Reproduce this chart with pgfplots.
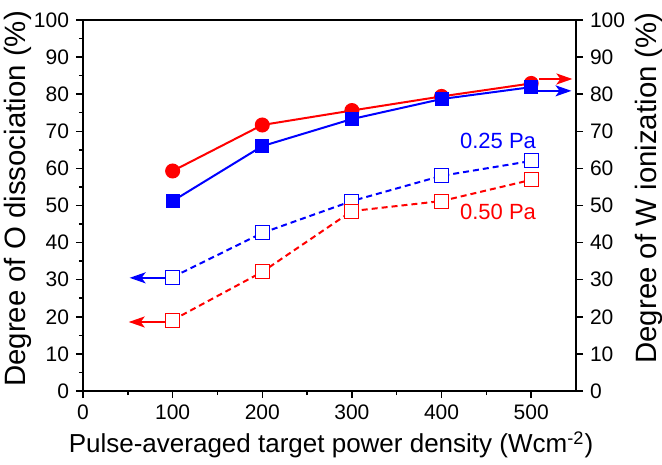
\documentclass[border=0pt]{standalone}
\usepackage{fontspec}
\setmainfont{Liberation Sans}
\usepackage{pgfplots}
\pgfplotsset{compat=1.18}
\usetikzlibrary{arrows.meta}
\definecolor{myred}{RGB}{255,0,0}
\definecolor{myblue}{RGB}{0,0,255}
\begin{document}
\begin{tikzpicture}
\useasboundingbox (-41.5bp,-37bp) rectangle (289.5bp,195.5bp);
\pgfplotsset{
  myaxis/.style={
    at={(0,0)}, anchor=south west,
    scale only axis, width=246.5bp, height=185.5bp,
    xmin=0, xmax=550, ymin=0, ymax=100,
    tick align=outside,
    major tick length=3.5bp, minor tick length=2bp,
    every tick/.style={black, line width=0.75bp},
    axis line style={line width=0.75bp},
    ticklabel style={font=\fontsize{10.5bp}{12bp}\selectfont},
    /pgf/number format/assume math mode=true,
    clip=false,
  }
}
\begin{axis}[myaxis,
  xtick={0,100,...,500}, minor xtick={50,150,...,450},
  ytick={0,10,...,100}, minor ytick={5,15,...,95},
  tick pos=left,
]
\addplot[myred, line width=1bp, mark=*, mark size=3.25bp]
  coordinates {(100,59.3)(200,71.7)(300,75.6)(400,79.4)(500,82.9)};
\addplot[myblue, line width=1bp, mark=square*, mark size=3bp]
  coordinates {(100,51.2)(200,66.0)(300,73.3)(400,78.7)(500,81.9)};
\addplot[myblue, line width=1bp, dash pattern=on 3bp off 2bp, mark=square*,
  mark size=3.5bp, mark options={solid, fill=white, line width=0.5bp}]
  coordinates {(100,30.7)(200,42.6)(300,51.2)(400,58.0)(500,62.0)};
\addplot[myred, line width=1bp, dash pattern=on 3bp off 2bp, mark=square*,
  mark size=3.5bp, mark options={solid, fill=white, line width=0.5bp}]
  coordinates {(100,19.1)(200,32.1)(300,48.5)(400,51.2)(500,56.9)};
% arrows
\addplot[myred, line width=1bp, -{Stealth[length=8bp,width=5.5bp,inset=2bp]}]
  coordinates {(509,84.1)(546,84.1)};
\addplot[myblue, line width=1bp, -{Stealth[length=8bp,width=5.5bp,inset=2bp]}]
  coordinates {(508,80.9)(545,80.9)};
\addplot[myblue, line width=1bp, -{Stealth[length=8bp,width=5.5bp,inset=2bp]}]
  coordinates {(91,30.5)(52,30.5)};
\addplot[myred, line width=1bp, -{Stealth[length=8bp,width=5.5bp,inset=2bp]}]
  coordinates {(91,18.6)(51,18.6)};
\node[myblue, font=\fontsize{11bp}{13bp}\selectfont] at (axis cs:463,67.4) {0.25 Pa};
\node[myred, font=\fontsize{11bp}{13bp}\selectfont] at (axis cs:463,48.4) {0.50 Pa};
\end{axis}
\begin{axis}[myaxis,
  axis x line=none, axis y line*=right,
  ytick={0,10,...,100}, minor ytick={},
]
\end{axis}
\node[font=\fontsize{13bp}{15bp}\selectfont] at (124bp,-27bp) {Pulse-averaged target power density (Wcm\textsuperscript{-2})};
\node[rotate=90, font=\fontsize{14.7bp}{17bp}\selectfont] at (-32.75bp,96bp) {Degree of O dissociation (\%)};
\node[rotate=90, font=\fontsize{14.7bp}{17bp}\selectfont] at (283bp,101.5bp) {Degree of W ionization (\%)};
\end{tikzpicture}
\end{document}
